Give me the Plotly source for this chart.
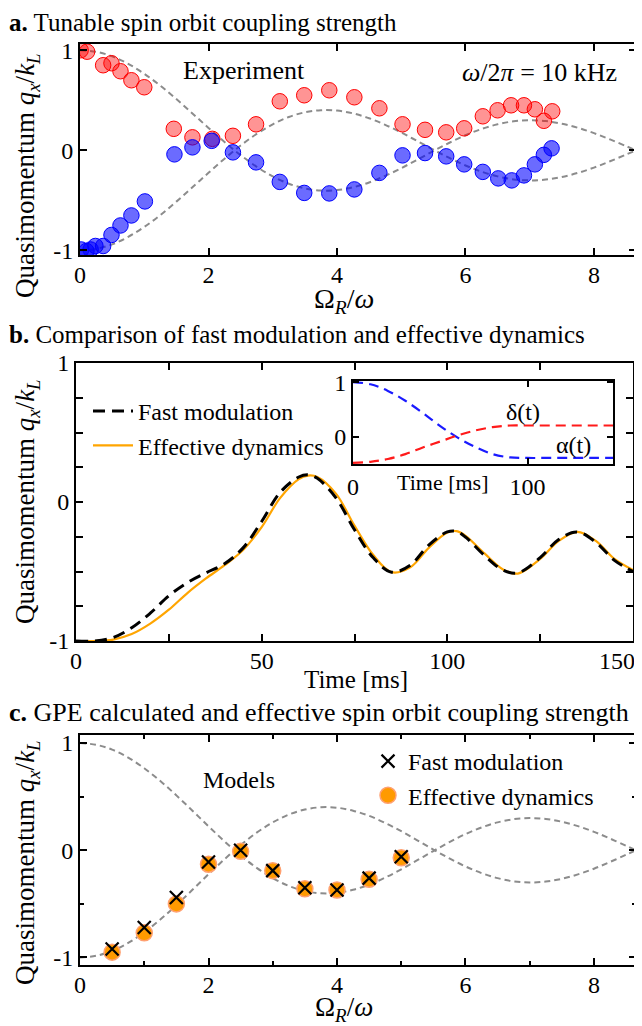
import plotly.graph_objects as go

FONT = "Liberation Serif"
# The page body has an 8px margin; design is done in screen pixels and shifted.
OFF = 8
W, H = 642 - OFF, 1026 - OFF

# ---------------- Panel a: experiment ----------------
a_red_x = [0.01, 0.11, 0.36, 0.49, 0.63, 0.80, 1.00, 1.46, 1.75, 2.06, 2.38, 2.74,
           3.11, 3.49, 3.88, 4.27, 4.66, 5.02, 5.37, 5.70, 5.98, 6.27, 6.50, 6.71,
           6.91, 7.08, 7.22, 7.35]
a_red_y = [1.00, 0.985, 0.85, 0.87, 0.79, 0.70, 0.63, 0.215, 0.13, 0.115, 0.145, 0.26,
           0.49, 0.55, 0.60, 0.53, 0.42, 0.26, 0.205, 0.18, 0.22, 0.34, 0.40, 0.45,
           0.45, 0.41, 0.295, 0.39]
a_blue_x = [0.02, 0.10, 0.165, 0.24, 0.36, 0.49, 0.63, 0.80, 1.01, 1.47, 1.75, 2.05,
            2.38, 2.74, 3.11, 3.49, 3.88, 4.27, 4.66, 5.02, 5.37, 5.70, 5.98, 6.27,
            6.51, 6.72, 6.91, 7.08, 7.22, 7.34]
a_blue_y = [-0.99, -1.005, -0.99, -0.955, -0.955, -0.845, -0.75, -0.65, -0.51, -0.04,
            0.03, 0.095, -0.02, -0.12, -0.315, -0.425, -0.43, -0.39, -0.225, -0.05,
            -0.027, -0.06, -0.14, -0.215, -0.28, -0.30, -0.25, -0.14, -0.045, 0.02]

model_x = [0, 0.25, 0.5, 0.75, 1.0, 1.25, 1.5, 1.75, 2.0, 2.25, 2.5, 2.75, 3.0, 3.25,
           3.5, 3.75, 4.0, 4.25, 4.5, 4.75, 5.0, 5.25, 5.5, 5.75, 6.0, 6.25, 6.5,
           6.75, 7.0, 7.25, 7.5, 7.75, 8.0, 8.25, 8.5, 8.654]
model_upper = [1.0, 0.984, 0.939, 0.864, 0.765, 0.646, 0.512, 0.369, 0.224, 0.083,
               -0.048, -0.164, -0.260, -0.333, -0.380, -0.401, -0.397, -0.369, -0.321,
               -0.255, -0.178, -0.093, -0.007, 0.076, 0.151, 0.213, 0.260, 0.290,
               0.300, 0.292, 0.266, 0.225, 0.172, 0.109, 0.042, 0.0]
model_lower = [-v for v in model_upper]

# ---------------- Panel b ----------------
b_t = [0, 5, 10, 15, 20, 25, 30, 35, 40, 45, 50, 55, 60, 62.5, 65, 70, 75, 80, 85,
       90, 95, 100, 102.5, 105, 110, 115, 119, 125, 130, 135, 140, 145, 150]
b_fast = [-1.0, -1.0, -0.975, -0.905, -0.80, -0.675, -0.58, -0.51, -0.445, -0.33,
          -0.14, 0.07, 0.18, 0.196, 0.17, 0.03, -0.20, -0.40, -0.505, -0.455, -0.31,
          -0.215, -0.212, -0.255, -0.385, -0.49, -0.51, -0.40, -0.27, -0.216, -0.29,
          -0.42, -0.50]
b_eff = [-1.0, -1.0, -0.99, -0.95, -0.875, -0.775, -0.655, -0.55, -0.455, -0.345,
         -0.18, 0.03, 0.165, 0.19, 0.18, 0.06, -0.17, -0.38, -0.505, -0.47, -0.33,
         -0.22, -0.21, -0.245, -0.37, -0.485, -0.515, -0.41, -0.28, -0.215, -0.28,
         -0.41, -0.49]
b_xticks = [0, 50, 100, 150]

in_t = [0, 10, 20, 30, 40, 50, 60, 70, 80, 90, 100, 110, 120, 130, 140, 150]
in_alpha = [1.0, 0.96, 0.84, 0.66, 0.44, 0.20, -0.01, -0.18, -0.31, -0.37, -0.38,
            -0.38, -0.38, -0.38, -0.38, -0.38]
in_delta = [-0.47, -0.45, -0.40, -0.31, -0.19, -0.08, 0.03, 0.12, 0.18, 0.21, 0.21,
            0.21, 0.21, 0.21, 0.21, 0.21]

# ---------------- Panel c ----------------
c_x = [0.5, 1.0, 1.5, 2.0, 2.5, 3.0, 3.5, 4.0, 4.5, 5.0]
c_fast = [-0.92, -0.72, -0.44, -0.11, 0.0, -0.19, -0.35, -0.37, -0.26, -0.06]
c_eff = [-0.95, -0.77, -0.50, -0.13, -0.01, -0.19, -0.36, -0.37, -0.27, -0.07]

GREY = "#8c8c8c"
DASH = "6px,4px"


def sx(px):
    return (px - OFF) / W


def sy(py):
    return 1 - (py - OFF) / H


def xdom(left, right):
    return [sx(left), sx(right)]


def ydom(top, bottom):
    return [sy(bottom), sy(top)]


fig = go.Figure()

for yy in (model_upper, model_lower):
    fig.add_trace(go.Scatter(x=model_x, y=yy, mode="lines", line_shape="spline",
                             line=dict(color=GREY, width=2, dash=DASH),
                             xaxis="x", yaxis="y", showlegend=False, hoverinfo="skip"))
fig.add_trace(go.Scatter(x=a_red_x, y=a_red_y, mode="markers", xaxis="x", yaxis="y",
                         showlegend=False,
                         marker=dict(size=15.5, color="rgba(255,0,0,0.42)",
                                     line=dict(color="rgb(255,0,0)", width=1))))
fig.add_trace(go.Scatter(x=a_blue_x, y=a_blue_y, mode="markers", xaxis="x", yaxis="y",
                         showlegend=False,
                         marker=dict(size=15.5, color="rgba(0,0,255,0.58)",
                                     line=dict(color="rgb(0,0,255)", width=1))))

fig.add_trace(go.Scatter(x=b_t, y=b_eff, mode="lines", line_shape="spline",
                         name="Effective dynamics", legendrank=2,
                         line=dict(color="#FFA500", width=2.2),
                         xaxis="x2", yaxis="y2"))
fig.add_trace(go.Scatter(x=b_t, y=b_fast, mode="lines", line_shape="spline",
                         name="Fast modulation", legendrank=1,
                         line=dict(color="black", width=3, dash="12px,7px"),
                         xaxis="x2", yaxis="y2"))
fig.add_trace(go.Scatter(x=in_t, y=in_alpha, mode="lines", line_shape="spline",
                         line=dict(color="#1a1aff", width=2.2, dash="10px,6px"),
                         xaxis="x3", yaxis="y3", showlegend=False))
fig.add_trace(go.Scatter(x=in_t, y=in_delta, mode="lines", line_shape="spline",
                         line=dict(color="#ff1a1a", width=2.2, dash="10px,6px"),
                         xaxis="x3", yaxis="y3", showlegend=False))

for yy in (model_upper, model_lower):
    fig.add_trace(go.Scatter(x=model_x, y=yy, mode="lines", line_shape="spline",
                             line=dict(color=GREY, width=2, dash=DASH),
                             xaxis="x4", yaxis="y4", showlegend=False, hoverinfo="skip"))
fig.add_trace(go.Scatter(x=c_x, y=c_eff, mode="markers", name="Effective dynamics",
                         legend="legend2", legendrank=2, xaxis="x4", yaxis="y4",
                         marker=dict(size=16, color="#FF9A00",
                                     line=dict(color="#FFA070", width=1.5))))
fig.add_trace(go.Scatter(x=c_x, y=c_fast, mode="markers", name="Fast modulation",
                         legend="legend2", legendrank=1, xaxis="x4", yaxis="y4",
                         marker=dict(size=13, symbol="x-thin", color="black",
                                     line=dict(color="black", width=2.2))))

TICKF = dict(family=FONT, size=24, color="black")


def ax(**kw):
    d = dict(showline=True, linecolor="black", linewidth=2, mirror="allticks",
             ticks="inside", ticklen=7, tickwidth=1.5, tickcolor="black",
             showgrid=False, zeroline=False, fixedrange=True, automargin=False,
             tickfont=TICKF)
    d.update(kw)
    return d


def minor(vals, ln=7):
    return dict(ticks="inside", tickvals=vals, ticklen=ln, tickwidth=1.5,
                tickcolor="black")


layout = dict(
    width=W, height=H, margin=dict(l=0, r=0, t=0, b=0, pad=0, autoexpand=False),
    paper_bgcolor="white", plot_bgcolor="rgba(0,0,0,0)",
    font=dict(family=FONT, color="black", size=23),
    xaxis=ax(domain=xdom(80, 636), range=[0, 8.654], anchor="y",
             tickvals=[0, 2, 4, 6, 8], ticklabelstandoff=-3),
    yaxis=ax(domain=ydom(43.7, 255), range=[-1.045, 1.065], anchor="x",
             tickvals=[-1, 0, 1], ticktext=["-1", "0", "1"]),
    xaxis2=ax(domain=xdom(76, 633), range=[0, 150], anchor="y2",
              tickvals=b_xticks[:-1], minor=minor([25, 75, 125]),
              ticklabelstandoff=-3),
    yaxis2=ax(domain=ydom(363, 641), range=[-1, 1], anchor="x2",
              tickvals=[-1, 0, 1], ticktext=["-1", "0", "1"],
              minor=minor([-0.75, -0.5, -0.25, 0.25, 0.5, 0.75])),
    xaxis3=ax(domain=xdom(353, 613), range=[0, 149], anchor="y3",
              tickvals=[0, 100], ticklen=6),
    yaxis3=ax(domain=ydom(381, 464), range=[-0.49, 1.02], anchor="x3",
              tickvals=[0, 1], ticklen=6),
    xaxis4=ax(domain=xdom(80, 636), range=[0, 8.654], anchor="y4",
              tickvals=[0, 2, 4, 6, 8], minor=minor([1, 3, 5, 7], 4),
              ticklabelstandoff=-3),
    yaxis4=ax(domain=ydom(735, 965), range=[-1.07, 1.075], anchor="x4",
              tickvals=[-1, 0, 1], ticktext=["-1", "0", "1"],
              minor=minor([-0.5, 0.5], 4)),
    legend=dict(x=sx(88), y=sy(389), xanchor="left", yanchor="top",
                bgcolor="rgba(0,0,0,0)", font=dict(family=FONT, size=24),
                itemwidth=40, tracegroupgap=0),
    legend2=dict(x=sx(368), y=sy(739), xanchor="left", yanchor="top",
                 bgcolor="rgba(0,0,0,0)", font=dict(family=FONT, size=24),
                 itemwidth=30, tracegroupgap=0),
    showlegend=True,
)
fig.update_layout(**layout)

ann = []


def text(x, y, s, size=23, xanchor="center", angle=0, yanchor="middle"):
    ann.append(dict(x=sx(x), y=sy(y), xref="paper", yref="paper", text=s,
                    showarrow=False, xanchor=xanchor, yanchor=yanchor,
                    textangle=angle, borderpad=0,
                    font=dict(family=FONT, size=size, color="black")))


ylab = "Quasimomentum <i>q<sub>x</sub></i>/<i>k<sub>L</sub></i>"
xlab = "Ω<sub><i>R</i></sub>/<i>ω</i>"

text(8, 8, "<b>a.</b> Tunable spin orbit coupling strength", size=25,
     xanchor="left", yanchor="top")
text(8, 335, "<b>b.</b> Comparison of fast modulation and effective dynamics", size=25,
     xanchor="left")
text(8, 712, "<b>c.</b> GPE calculated and effective spin orbit coupling strength",
     size=26, xanchor="left")
text(27, 176, ylab, size=27, angle=-90)
text(27, 502, ylab, size=27, angle=-90)
text(27, 863, ylab, size=27, angle=-90)
text(344, 301, xlab, size=28)
text(356, 679, "Time [ms]", size=25)
text(344, 1009, xlab, size=27)
# last tick label of panel b, nudged inside the page like the reference
text(617, 661, str(b_xticks[-1]), size=24)
text(244, 70, "Experiment", size=26)
text(539, 72, "<i>ω</i>/2<i>π</i> = 10 kHz", size=26)
text(239, 780, "Models", size=24)
text(523, 412, "δ(t)", size=24)
text(573, 445, "α(t)", size=24)
text(443, 483, "Time [ms]", size=22)

fig.update_layout(annotations=ann)
fig.write_html("out.html")
